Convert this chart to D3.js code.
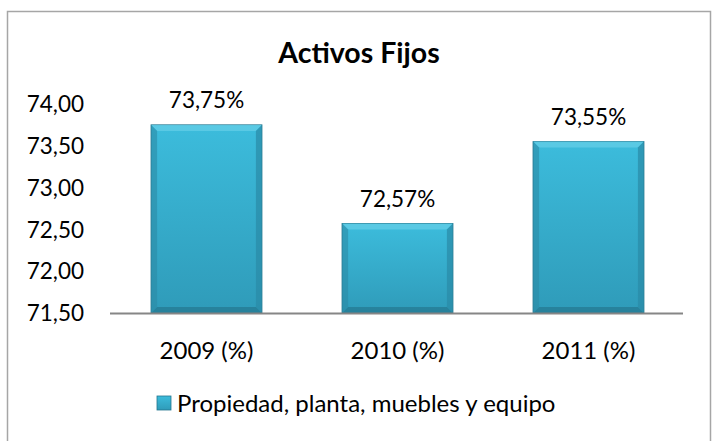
<!DOCTYPE html>
<html>
<head>
<meta charset="utf-8">
<script src="https://cdn.jsdelivr.net/npm/d3@7"></script>
<style>
  body { margin: 0; background: #fff; }
  svg { display: block; font-family: Lato, "Open Sans", sans-serif; }
</style>
</head>
<body>
<div id="chart"></div>
<script>
const categories = ['2009 (%)', '2010 (%)', '2011 (%)'];
const values = [73.75, 72.57, 73.55];
const valueLabels = ['73,75%', '72,57%', '73,55%'];
const yTicks = [71.5, 72, 72.5, 73, 73.5, 74];
const seriesName = 'Propiedad, planta, muebles y equipo';
const title = 'Activos Fijos';

const width = 712;
const height = 441;
const plot = { left: 110, right: 683, top: 104, bottom: 313 };

const svg = d3.select('#chart')
  .append('svg')
  .attr('width', width)
  .attr('height', height);

// chart frame
svg.append('rect')
  .attr('x', 7.5)
  .attr('y', 11.5)
  .attr('width', 703)
  .attr('height', 450)
  .attr('fill', '#fff')
  .attr('stroke', '#a6a6a6')
  .attr('stroke-width', 1.5);

const defs = svg.append('defs');
const grad = defs.append('linearGradient')
  .attr('id', 'barFill')
  .attr('x1', 0).attr('x2', 0).attr('y1', 0).attr('y2', 1);
grad.append('stop').attr('offset', '0%').attr('stop-color', '#3cbcdc');
grad.append('stop').attr('offset', '100%').attr('stop-color', '#2f9bb9');

const x = d3.scaleBand()
  .domain(categories)
  .range([plot.left + 1, plot.right + 1])
  .paddingInner(0.42)
  .paddingOuter(0.21);

const y = d3.scaleLinear()
  .domain([71.5, 74])
  .range([plot.bottom, plot.top]);

const fmt = (d) => d3.format('.2f')(d).replace('.', ',');

// y axis labels
svg.append('g')
  .selectAll('text')
  .data(yTicks)
  .join('text')
  .attr('x', 84)
  .attr('y', (d) => y(d))
  .attr('dy', '0.36em')
  .attr('text-anchor', 'end')
  .attr('font-size', 22.5)
  .attr('fill', '#000')
  .text(fmt);

// bars
const bars = svg.append('g')
  .selectAll('g')
  .data(values)
  .join('g');

const bevel = 6;
bars.append('rect')
  .attr('x', (d, i) => x(categories[i]))
  .attr('y', (d) => y(d))
  .attr('width', x.bandwidth())
  .attr('height', (d) => plot.bottom - y(d))
  .attr('fill', 'url(#barFill)')
  .attr('stroke', '#23768e')
  .attr('stroke-width', 1);

// bevel edges
bars.append('path')
  .attr('fill', '#62cde6')
  .attr('fill-opacity', 0.8)
  .attr('d', (d, i) => {
    const x0 = x(categories[i]);
    const x1 = x0 + x.bandwidth();
    const y0 = y(d);
    return `M${x0},${y0}L${x1},${y0}L${x1 - bevel},${y0 + bevel}L${x0 + bevel},${y0 + bevel}Z`;
  });

bars.append('path')
  .attr('fill', '#2a8aa6')
  .attr('fill-opacity', 0.7)
  .attr('d', (d, i) => {
    const x0 = x(categories[i]);
    const x1 = x0 + x.bandwidth();
    const y0 = y(d);
    return `M${x1},${y0}L${x1},${plot.bottom}L${x1 - bevel},${plot.bottom - bevel}L${x1 - bevel},${y0 + bevel}Z`;
  });

bars.append('path')
  .attr('fill', '#2b8aa5')
  .attr('fill-opacity', 0.6)
  .attr('d', (d, i) => {
    const x0 = x(categories[i]);
    const y0 = y(d);
    return `M${x0},${y0}L${x0 + bevel},${y0 + bevel}L${x0 + bevel},${plot.bottom - bevel}L${x0},${plot.bottom}Z`;
  });

bars.append('path')
  .attr('fill', '#237790')
  .attr('fill-opacity', 0.7)
  .attr('d', (d, i) => {
    const x0 = x(categories[i]);
    const x1 = x0 + x.bandwidth();
    return `M${x0},${plot.bottom}L${x0 + bevel},${plot.bottom - bevel}L${x1 - bevel},${plot.bottom - bevel}L${x1},${plot.bottom}Z`;
  });

// value labels
svg.append('g')
  .selectAll('text')
  .data(values)
  .join('text')
  .attr('x', (d, i) => x(categories[i]) + x.bandwidth() / 2)
  .attr('y', (d) => y(d) - 17)
  .attr('text-anchor', 'middle')
  .attr('font-size', 22.5)
  .attr('fill', '#000')
  .text((d, i) => valueLabels[i]);

// x axis
svg.append('line')
  .attr('x1', plot.left)
  .attr('x2', plot.right)
  .attr('y1', plot.bottom + 0.5)
  .attr('y2', plot.bottom + 0.5)
  .attr('stroke', '#868686')
  .attr('stroke-width', 2);

svg.append('g')
  .selectAll('text')
  .data(categories)
  .join('text')
  .attr('x', (d) => x(d) + x.bandwidth() / 2)
  .attr('y', 359)
  .attr('text-anchor', 'middle')
  .attr('font-size', 24)
  .attr('fill', '#000')
  .text((d) => d);

// title
svg.append('text')
  .attr('x', 359)
  .attr('y', 63)
  .attr('text-anchor', 'middle')
  .attr('font-size', 28.5)
  .attr('font-weight', 'bold')
  .attr('fill', '#000')
  .text(title);

// legend
const legend = svg.append('g').attr('transform', 'translate(157,396)');
legend.append('rect')
  .attr('width', 14)
  .attr('height', 14)
  .attr('fill', 'url(#barFill)')
  .attr('stroke', '#23768e')
  .attr('stroke-width', 0.8);
legend.append('text')
  .attr('x', 20)
  .attr('y', 7)
  .attr('dy', '0.36em')
  .attr('font-size', 24)
  .attr('fill', '#000')
  .text(seriesName);
</script>
</body>
</html>
